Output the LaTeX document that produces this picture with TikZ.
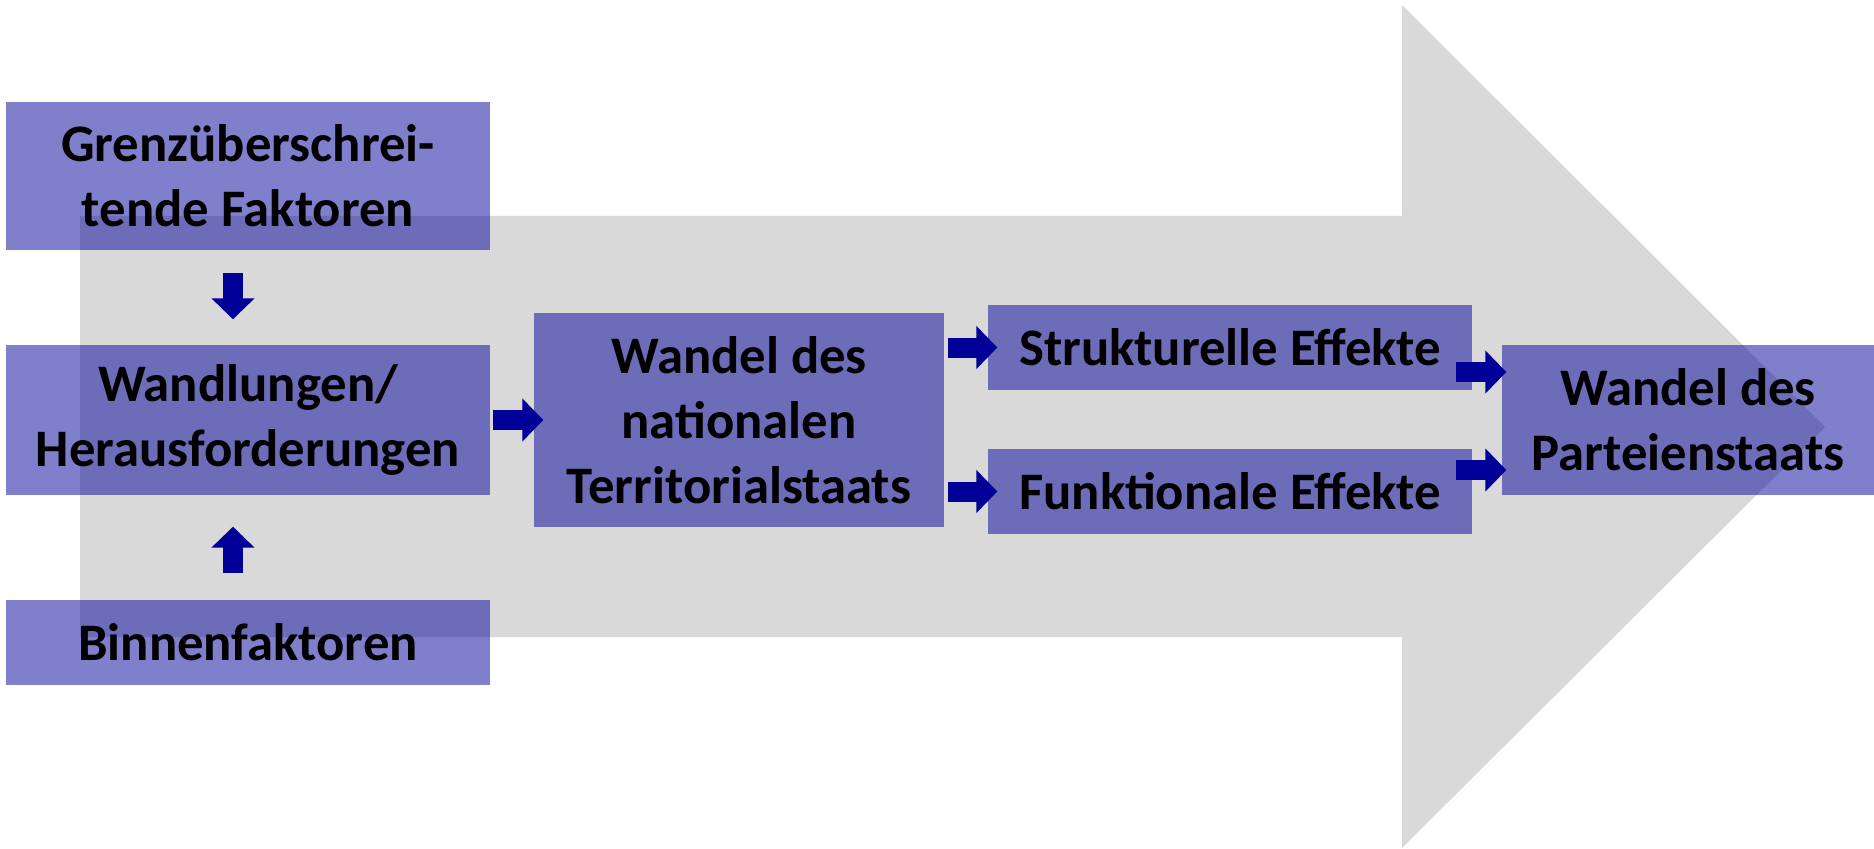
\documentclass[tikz,border=0pt]{standalone}
\usepackage{fontspec}
\setmainfont{Carlito}
\usetikzlibrary{arrows.meta}
\definecolor{darkblue}{RGB}{0,0,153}
\definecolor{lightgray}{RGB}{217,217,217}

\begin{document}
\begin{tikzpicture}[box/.style={shape=rectangle,fill=darkblue,fill opacity=0.5,text opacity=1,align=center,inner sep=0pt,font=\fontsize{15}{18.5}\selectfont\bfseries},
blockarrow/.style={-{Triangle[width=4.2mm,length=2.1mm]},draw=darkblue,line width=2mm}]
\useasboundingbox (0,0) rectangle (18.74,8.48);
\fill[lightgray] (0.80,6.32) -- (14.02,6.32) -- (14.02,8.43) -- (18.25,4.21) -- (14.02,0.00) -- (14.02,2.11) -- (0.80,2.11) -- cycle;

\node[box,minimum width=4.84cm,minimum height=1.48cm] (0) at (2.48,6.72) {Grenzüberschrei-\\tende Faktoren};
\node[box,minimum width=4.84cm,minimum height=1.50cm] (1) at (2.48,4.28) {Wandlungen/\\Herausforderungen};
\node[box,minimum width=4.84cm,minimum height=0.85cm] (2) at (2.48,2.055) {Binnenfaktoren};
\node[box,minimum width=4.10cm,minimum height=2.14cm] (3) at (7.39,4.28) {Wandel des\\nationalen\\Territorialstaats};
\node[box,minimum width=4.84cm,minimum height=0.85cm] (4) at (12.30,5.005) {Strukturelle Effekte};
\node[box,minimum width=4.84cm,minimum height=0.85cm] (5) at (12.30,3.565) {Funktionale Effekte};
\node[box,minimum width=3.72cm,minimum height=1.50cm] (6) at (16.88,4.28) {Wandel des\\Parteienstaats};

\draw [blockarrow,shorten <=2.2mm,shorten >=2.5mm] ([xshift=-1.5mm]0.south) -- ([xshift=-1.5mm]1.north);
\draw [blockarrow,shorten <=2.6mm,shorten >=3.1mm] ([xshift=-1.5mm]2.north) -- ([xshift=-1.5mm]1.south);
\draw [blockarrow,shorten <=0.2mm,shorten >=-1mm] (1.east) -- (3.west);
\draw [blockarrow,shorten <=0.3mm,shorten >=-1mm] (3.east |- 4.west) -- (4.west);
\draw [blockarrow,shorten <=0.3mm,shorten >=-1mm] (3.east |- 5.west) -- (5.west);
\draw [blockarrow,shorten >=-0.5mm] ([xshift=-1.7mm,yshift=-2.45mm]4.east) -- ([yshift=-2.45mm]4.east -| 6.west);
\draw [blockarrow,shorten >=-0.5mm] ([xshift=-1.7mm,yshift=2.15mm]5.east) -- ([yshift=2.15mm]5.east -| 6.west);
\end{tikzpicture}
\end{document}
